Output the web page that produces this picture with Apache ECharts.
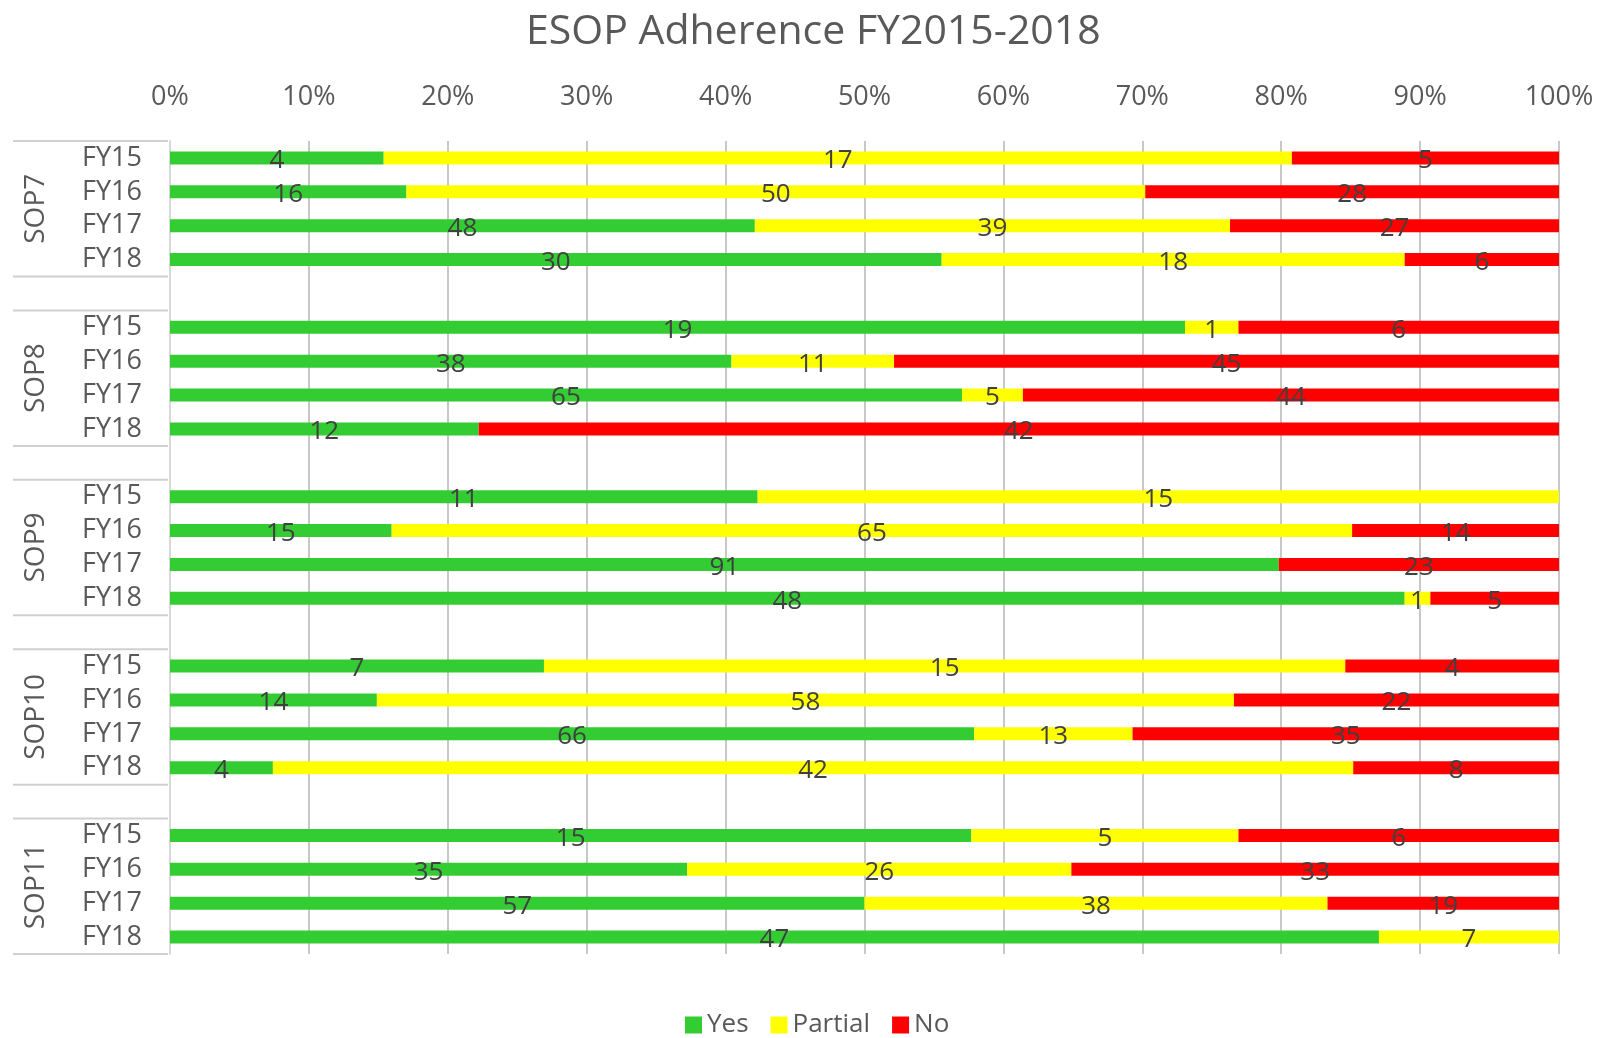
<!DOCTYPE html>
<html>
<head>
<meta charset="utf-8">
<title>ESOP Adherence FY2015-2018</title>
<script src="https://cdn.jsdelivr.net/npm/echarts@6/dist/echarts.min.js"></script>
<style>
  html, body { margin: 0; padding: 0; background: #ffffff; }
  #chart { width: 1606px; height: 1038px; }
</style>
</head>
<body>
<div id="chart"></div>
<script>
// Procedures and fiscal years (one row per procedure/year pair)
const groups = ['SOP7', 'SOP8', 'SOP9', 'SOP10', 'SOP11'];
const years = ['FY15', 'FY16', 'FY17', 'FY18'];

// Audit counts per row, in order SOP7 FY15..FY18, SOP8 FY15..FY18, ...
const yesCounts     = [4, 16, 48, 30,   19, 38, 65, 12,   11, 15, 91, 48,   7, 14, 66, 4,    15, 35, 57, 47];
const partialCounts = [17, 50, 39, 18,  1, 11, 5, 0,      15, 65, 0, 1,     15, 58, 13, 42,  5, 26, 38, 7];
const noCounts      = [5, 28, 27, 6,    6, 45, 44, 42,    0, 14, 23, 5,     4, 22, 35, 8,    6, 33, 19, 0];

const xTicks = [0, 10, 20, 30, 40, 50, 60, 70, 80, 90, 100];

const FONT = '"Open Sans", "Liberation Sans", sans-serif';
const COLORS = { yes: '#33CC33', partial: '#FFFF00', no: '#FF0000' };

// Category slots: four years per procedure, one empty slot between procedures
const categories = [];
const rowOfSlot = [];
groups.forEach((g, gi) => {
  years.forEach((y, yi) => {
    categories.push(g + '|' + y);
    rowOfSlot.push(gi * years.length + yi);
  });
  if (gi < groups.length - 1) {
    categories.push('gap' + gi + '|');
    rowOfSlot.push(-1);
  }
});

// 100% stacked: each segment is its share of the row total, label shows the count
function seriesData(counts) {
  return rowOfSlot.map(r => {
    if (r < 0) return { value: '-', count: null };
    const total = yesCounts[r] + partialCounts[r] + noCounts[r];
    return { value: counts[r] / total * 100, count: counts[r] };
  });
}

function makeSeries(name, counts, color) {
  return {
    name: name,
    type: 'bar',
    stack: 'share',
    barWidth: 13,
    itemStyle: { color: color },
    label: {
      show: true,
      position: 'inside',
      offset: [0, 3],
      color: '#404040',
      fontFamily: FONT,
      fontSize: 26,
      formatter: p => (p.data.count ? String(p.data.count) : '')
    },
    emphasis: { disabled: true },
    data: seriesData(counts)
  };
}

const chart = echarts.init(document.getElementById('chart'));

chart.setOption({
  backgroundColor: '#ffffff',
  animation: false,
  title: {
    text: 'ESOP Adherence FY2015-2018',
    left: 521,
    top: 7,
    textStyle: { fontFamily: FONT, fontSize: 41, fontWeight: 'normal', color: '#595959' }
  },
  legend: {
    top: 1007,
    left: 680,
    itemWidth: 17,
    itemHeight: 17,
    itemGap: 22,
    icon: 'rect',
    textStyle: { fontFamily: FONT, fontSize: 26, color: '#595959' },
    data: ['Yes', 'Partial', 'No']
  },
  grid: { left: 170, right: 47, top: 141, bottom: 84 },
  xAxis: {
    type: 'value',
    position: 'top',
    min: 0,
    max: 100,
    interval: 10,
    axisLine: { show: false },
    axisTick: { show: false },
    splitLine: { show: true, lineStyle: { color: '#c8c8c8', width: 2 } },
    axisLabel: {
      margin: 30,
      formatter: v => (xTicks.indexOf(v) >= 0 ? v + '%' : ''),
      fontFamily: FONT,
      fontSize: 27,
      color: '#595959'
    }
  },
  yAxis: {
    type: 'category',
    inverse: true,
    data: categories,
    axisLine: { show: true, lineStyle: { color: '#d9d9d9', width: 2 } },
    axisTick: { show: false },
    axisLabel: {
      interval: 0,
      margin: 28,
      formatter: v => v.split('|')[1],
      fontFamily: FONT,
      fontSize: 27,
      color: '#595959'
    }
  },
  series: [
    makeSeries('Yes', yesCounts, COLORS.yes),
    makeSeries('Partial', partialCounts, COLORS.partial),
    makeSeries('No', noCounts, COLORS.no)
  ]
});

// Group labels and separators for the two-level category axis
(function drawGroupAxis() {
  const c0 = chart.convertToPixel({ yAxisIndex: 0 }, categories[0]);
  const c1 = chart.convertToPixel({ yAxisIndex: 0 }, categories[1]);
  const band = c1 - c0;
  const lineLeft = 13, lineRight = 168;
  const elements = [];
  groups.forEach((g) => {
    const first = categories.indexOf(g + '|' + years[0]);
    const last = categories.indexOf(g + '|' + years[years.length - 1]);
    const yFirst = chart.convertToPixel({ yAxisIndex: 0 }, categories[first]);
    const yLast = chart.convertToPixel({ yAxisIndex: 0 }, categories[last]);
    const top = yFirst - band / 2;
    const bottom = yLast + band / 2;
    [top, bottom].forEach(y => {
      elements.push({
        type: 'line',
        silent: true,
        shape: { x1: lineLeft, y1: y, x2: lineRight, y2: y },
        style: { stroke: '#d0d0d0', lineWidth: 2 }
      });
    });
    elements.push({
      type: 'text',
      silent: true,
      x: 36,
      y: (yFirst + yLast) / 2,
      rotation: Math.PI / 2,
      style: {
        text: g,
        x: 0,
        y: 0,
        align: 'center',
        verticalAlign: 'middle',
        fontFamily: FONT,
        fontSize: 28,
        fill: '#595959'
      }
    });
  });
  chart.setOption({ graphic: elements });
})();
</script>
</body>
</html>
